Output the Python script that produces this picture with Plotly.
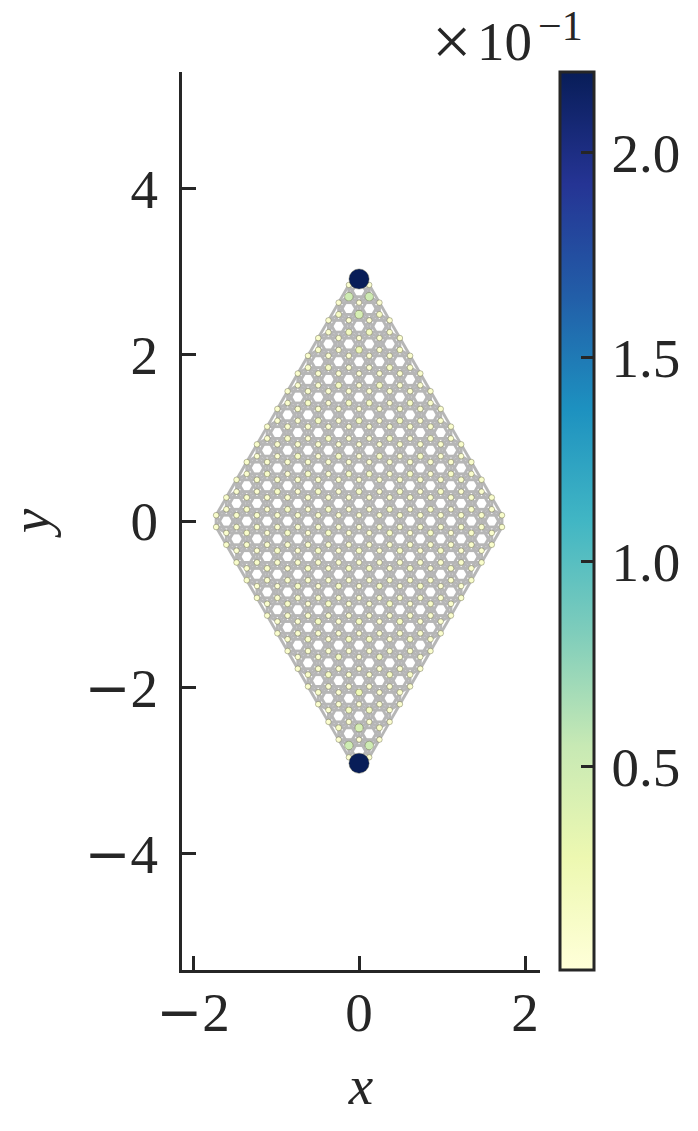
import plotly.graph_objects as go

# Horizontal site positions of the honeycomb flake
X_POSITIONS = [-1.722, -1.599, -1.476, -1.353, -1.230, -1.107, -0.984, -0.861, -0.738, -0.615,
               -0.492, -0.369, -0.246, -0.123, 0.0, 0.123, 0.246, 0.369, 0.492, 0.615,
               0.738, 0.861, 0.984, 1.107, 1.230, 1.353, 1.476, 1.599, 1.722]

# Upper half, rows of the sublattice holding the top site
ROW_Y_A = [2.911, 2.698, 2.485, 2.272, 2.059, 1.846, 1.633, 1.420, 1.207, 0.994, 0.781, 0.568, 0.355, 0.142]
VALUES_A = [
    [2.198],
    [0.50, 0.50],
    [0.13, 0.44, 0.13],
    [0.08, 0.17, 0.17, 0.08],
    [0.10, 0.05, 0.24, 0.05, 0.10],
    [0.10, 0.14, 0.06, 0.06, 0.14, 0.10],
    [0.06, 0.06, 0.15, 0.04, 0.15, 0.06, 0.06],
    [0.08, 0.12, 0.04, 0.14, 0.14, 0.04, 0.12, 0.08],
    [0.06, 0.05, 0.15, 0.04, 0.15, 0.04, 0.15, 0.05, 0.06],
    [0.08, 0.11, 0.04, 0.13, 0.05, 0.05, 0.13, 0.04, 0.11, 0.08],
    [0.06, 0.05, 0.13, 0.04, 0.13, 0.04, 0.13, 0.04, 0.13, 0.05, 0.06],
    [0.08, 0.11, 0.04, 0.12, 0.05, 0.12, 0.12, 0.05, 0.12, 0.04, 0.11, 0.08],
    [0.06, 0.05, 0.12, 0.04, 0.12, 0.04, 0.12, 0.04, 0.12, 0.04, 0.12, 0.05, 0.06],
    [0.08, 0.10, 0.04, 0.12, 0.04, 0.12, 0.04, 0.04, 0.12, 0.04, 0.12, 0.04, 0.10, 0.08],
]

# Upper half, rows of the other sublattice
ROW_Y_B = [2.840, 2.627, 2.414, 2.201, 1.988, 1.775, 1.562, 1.349, 1.136, 0.923, 0.710, 0.497, 0.284, 0.071]
VALUES_B = [
    [0.06, 0.06],
    [0.07, 0.03, 0.07],
    [0.07, 0.05, 0.05, 0.07],
    [0.08, 0.06, 0.03, 0.06, 0.08],
    [0.08, 0.06, 0.05, 0.05, 0.06, 0.08],
    [0.08, 0.08, 0.05, 0.03, 0.05, 0.08, 0.08],
    [0.08, 0.08, 0.06, 0.05, 0.05, 0.06, 0.08, 0.08],
    [0.08, 0.08, 0.08, 0.05, 0.03, 0.05, 0.08, 0.08, 0.08],
    [0.08, 0.08, 0.08, 0.06, 0.05, 0.05, 0.06, 0.08, 0.08, 0.08],
    [0.09, 0.08, 0.08, 0.08, 0.05, 0.04, 0.05, 0.08, 0.08, 0.08, 0.09],
    [0.09, 0.08, 0.08, 0.08, 0.06, 0.05, 0.05, 0.06, 0.08, 0.08, 0.08, 0.09],
    [0.09, 0.09, 0.08, 0.08, 0.08, 0.05, 0.04, 0.05, 0.08, 0.08, 0.08, 0.09, 0.09],
    [0.09, 0.09, 0.08, 0.08, 0.08, 0.06, 0.05, 0.05, 0.06, 0.08, 0.08, 0.08, 0.09, 0.09],
    [0.09, 0.09, 0.09, 0.08, 0.08, 0.08, 0.05, 0.04, 0.05, 0.08, 0.08, 0.08, 0.09, 0.09, 0.09],
]

MINUS = '<span style="font-family:DejaVu Serif">−</span>'
AXIS_TICKS = {"x": [-2, 0, 2], "y": [-4, -2, 0, 2, 4]}
AXIS_TEXT = {"x": [MINUS + "2", "0", "2"], "y": [MINUS + "4", MINUS + "2", "0", "2", "4"]}
CBAR_TICKS = [0.5, 1.0, 1.5, 2.0]
CBAR_TEXT = ["\u200a0.5", "\u200a1.0", "\u200a1.5", "\u200a2.0"]
CBAR_MIN, CBAR_MAX = 0.002, 2.198

INK = "#262626"
FONT = "Liberation Serif"
FS = 55
W, H = 698, 1131
L, R, T, B = 182, 540, 72, 970

xs, ys, vs = [], [], []
for rows_y, rows_v in ((ROW_Y_A, VALUES_A), (ROW_Y_B, VALUES_B)):
    for y, row in zip(rows_y, rows_v):
        n = len(row)
        row_x = X_POSITIONS[14 - (n - 1):14 + n:2]
        for x, v in zip(row_x, row):
            xs += [x, x]
            ys += [y, -y]
            vs += [v, v]

# Bonds: nearest and next-nearest neighbours of the lattice
ex, ey = [], []
for i in range(len(xs)):
    for j in range(i + 1, len(xs)):
        d = ((xs[i] - xs[j]) ** 2 + (ys[i] - ys[j]) ** 2) ** 0.5
        if d < 0.26:
            ex += [xs[i], xs[j], None]
            ey += [ys[i], ys[j], None]

order = sorted(range(len(vs)), key=lambda k: vs[k])

fig = go.Figure()
fig.add_trace(go.Scatter(x=ex, y=ey, mode="lines", hoverinfo="skip",
                         line=dict(color="#b6b6b6", width=2.9)))
fig.add_trace(go.Scatter(
    x=[xs[k] for k in order], y=[ys[k] for k in order], mode="markers",
    marker=dict(
        color=[vs[k] for k in order], size=[5.0 + 6.9 * vs[k] for k in order],
        opacity=1,
        colorscale="YlGnBu", cmin=CBAR_MIN, cmax=CBAR_MAX,
        line=dict(color="rgba(90,90,60,0.8)", width=0.5),
        colorbar=dict(
            x=(560 - L) / (R - L), xanchor="left", xpad=0, ypad=0,
            y=0.5, yanchor="middle", len=1, lenmode="fraction",
            thickness=34, thicknessmode="pixels",
            outlinewidth=3, outlinecolor=INK,
            ticks="inside", ticklen=14, tickwidth=3, tickcolor=INK,
            tickvals=CBAR_TICKS, ticktext=CBAR_TEXT,
            tickfont=dict(family=FONT, size=FS, color=INK),
        ),
    )))

def axis(key, rng, title, standoff, label_gap):
    return dict(range=rng, showgrid=False, zeroline=False, showline=True, linewidth=3,
                linecolor=INK, ticks="inside", ticklen=14, tickwidth=3, tickcolor=INK,
                tickvals=AXIS_TICKS[key], ticktext=AXIS_TEXT[key], ticklabelstandoff=label_gap,
                tickfont=dict(family=FONT, size=FS, color=INK),
                title=dict(text=title, font=dict(family=FONT, size=FS, color=INK), standoff=standoff))

def label(text, px, py, size, anchor):
    return dict(text=text, xref="paper", yref="paper",
                x=(px - L) / (R - L), y=(B - py) / (B - T), xanchor=anchor, yanchor="middle",
                showarrow=False, font=dict(family=FONT, size=size, color=INK))

fig.update_layout(
    width=W, height=H, margin=dict(l=L, r=W - R, t=T, b=H - B, pad=0, autoexpand=False),
    paper_bgcolor="white", plot_bgcolor="white", showlegend=False,
    xaxis=axis("x", [-2.133, 2.18], "<i>x</i>", 23, -8),
    yaxis=axis("y", [-5.397, 5.40], "<i>y</i>", 25, 10),
    annotations=[label("×", 451, 42, 70, "center"),
                 label("10", 504, 42, 55, "center"),
                 label("−1", 585, 26, 42, "right")],
)
fig.write_html("out.html", config={"displayModeBar": False},
               post_script="document.body.style.margin='0';")
